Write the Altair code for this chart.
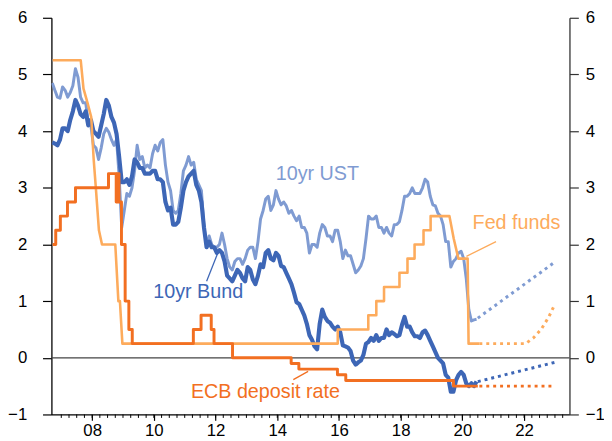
import altair as alt
import pandas as pd

# ---------------- data ----------------
# monthly 10yr yields, Sep 2006 .. Jun 2020
ust = [4.85, 4.72, 4.60, 4.58,
       4.78, 4.72, 4.60, 4.68, 4.80, 5.10, 4.95, 4.60, 4.50, 4.50, 4.15, 4.10,
       3.75, 3.70, 3.50, 3.70, 3.95, 4.05, 3.98, 3.85, 3.75, 3.85, 3.20, 2.30,
       2.60, 2.90, 2.85, 3.00, 3.30, 3.75, 3.50, 3.55, 3.35, 3.40, 3.35, 3.60,
       3.75, 3.65, 3.80, 3.85, 3.40, 3.10, 2.95, 2.60, 2.55, 2.60, 2.90, 3.30,
       3.40, 3.55, 3.40, 3.45, 3.15, 3.05, 2.95, 2.30, 2.00, 2.15, 2.00, 1.95,
       1.95, 2.00, 2.20, 2.00, 1.75, 1.60, 1.55, 1.70, 1.75, 1.75, 1.65, 1.75,
       1.90, 1.95, 1.95, 1.75, 2.05, 2.45, 2.60, 2.80, 2.85, 2.60, 2.70, 2.95,
       2.80, 2.70, 2.75, 2.68, 2.55, 2.60, 2.50, 2.42, 2.50, 2.30, 2.30, 2.20,
       1.85, 2.00, 2.00, 1.95, 2.20, 2.35, 2.30, 2.15, 2.15, 2.05, 2.25, 2.25,
       2.05, 1.75, 1.90, 1.80, 1.80, 1.65, 1.50, 1.55, 1.62, 1.75, 2.10, 2.50,
       2.45, 2.45, 2.50, 2.30, 2.30, 2.20, 2.30, 2.20, 2.15, 2.35, 2.35, 2.40,
       2.60, 2.85, 2.85, 2.90, 3.00, 2.90, 2.90, 2.90, 3.00, 3.15, 3.10, 2.85,
       2.70, 2.68, 2.55, 2.50, 2.35, 2.05, 2.05, 1.60, 1.70, 1.75, 1.85, 1.88,
       1.75, 1.40, 0.85, 0.65, 0.67, 0.68]
bund = [3.80, 3.78, 3.75, 3.85,
        4.05, 4.05, 4.00, 4.20, 4.35, 4.55, 4.45, 4.30, 4.25, 4.35, 4.10, 4.20,
        4.00, 3.95, 3.90, 4.10, 4.30, 4.55, 4.45, 4.25, 4.15, 3.95, 3.55, 3.10,
        3.10, 3.15, 3.05, 3.20, 3.50, 3.45, 3.35, 3.35, 3.25, 3.25, 3.25, 3.30,
        3.30, 3.15, 3.15, 3.10, 2.75, 2.60, 2.65, 2.35, 2.35, 2.40, 2.65, 2.95,
        3.10, 3.20, 3.25, 3.30, 3.05, 2.95, 2.75, 2.30, 1.95, 2.05, 1.95, 1.95,
        1.85, 1.90, 1.85, 1.70, 1.45, 1.40, 1.35, 1.45, 1.55, 1.50, 1.40, 1.35,
        1.60, 1.55, 1.38, 1.30, 1.45, 1.65, 1.60, 1.85, 1.90, 1.75, 1.72, 1.85,
        1.80, 1.62, 1.60, 1.50, 1.40, 1.30, 1.15, 0.98, 0.95, 0.85, 0.75, 0.60,
        0.40, 0.32, 0.20, 0.15, 0.60, 0.85, 0.72, 0.65, 0.62, 0.55, 0.50, 0.55,
        0.45, 0.22, 0.20, 0.18, 0.12, -0.05, -0.12, -0.08, -0.05, 0.05, 0.25, 0.28,
        0.35, 0.30, 0.40, 0.30, 0.35, 0.35, 0.50, 0.40, 0.45, 0.42, 0.38, 0.40,
        0.58, 0.72, 0.55, 0.55, 0.45, 0.38, 0.38, 0.35, 0.45, 0.48, 0.40, 0.30,
        0.20, 0.10, 0.00, -0.05, -0.10, -0.30, -0.35, -0.60, -0.60, -0.40, -0.30, -0.25,
        -0.30, -0.45, -0.50, -0.45, -0.50, -0.42]

fed_t = [2006.72, 2007.63, 2007.72, 2007.85, 2007.97, 2008.05, 2008.12, 2008.22,
         2008.32, 2008.75, 2008.85, 2008.90, 2008.98,
         2015.96, 2015.96, 2016.95, 2016.95, 2017.21, 2017.21, 2017.46, 2017.46,
         2017.96, 2017.96, 2018.22, 2018.22, 2018.45, 2018.45, 2018.74, 2018.74,
         2018.97, 2018.97, 2019.58, 2019.72, 2019.87, 2020.17, 2020.20, 2020.55]
fed_v = [5.25, 5.25, 4.75, 4.50, 4.25, 3.50, 3.00, 2.25,
         2.00, 2.00, 1.00, 1.00, 0.25,
         0.25, 0.50, 0.50, 0.75, 0.75, 1.00, 1.00, 1.25,
         1.25, 1.50, 1.50, 1.75, 1.75, 2.00, 2.00, 2.25,
         2.25, 2.50, 2.50, 2.10, 1.75, 1.75, 0.25, 0.25]

ecb_t = [2006.72, 2006.82, 2006.82, 2006.97, 2006.97, 2007.20, 2007.20, 2007.46, 2007.46,
         2008.53, 2008.53, 2008.78, 2008.78, 2008.80, 2008.80, 2008.87, 2008.87,
         2008.95, 2008.95, 2009.07, 2009.07, 2009.19, 2009.19, 2009.30, 2009.30,
         2011.28, 2011.28, 2011.53, 2011.53, 2011.86, 2011.86, 2011.95, 2011.95,
         2012.55, 2012.55, 2014.45, 2014.45, 2014.70, 2014.70, 2015.95, 2015.95,
         2016.22, 2016.22, 2019.71, 2019.71, 2020.50]
ecb_v = [2.00, 2.00, 2.25, 2.25, 2.50, 2.50, 2.75, 2.75, 3.00,
         3.00, 3.25, 3.25, 2.75, 2.75, 3.25, 3.25, 2.75,
         2.75, 2.00, 2.00, 1.00, 1.00, 0.50, 0.50, 0.25,
         0.25, 0.50, 0.50, 0.75, 0.75, 0.50, 0.50, 0.25,
         0.25, 0.00, 0.00, -0.10, -0.10, -0.20, -0.20, -0.30,
         -0.30, -0.40, -0.40, -0.50, -0.50]

# forward paths (dotted)
ust_fwd_t, ust_fwd_v = [2020.50, 2023.00], [0.70, 1.69]
bund_fwd_t, bund_fwd_v = [2020.50, 2023.00], [-0.42, -0.08]
fed_fwd_t = [2020.55, 2022.05, 2022.30, 2022.55, 2022.80, 2023.00]
fed_fwd_v = [0.25, 0.25, 0.35, 0.50, 0.72, 0.95]
ecb_fwd_t, ecb_fwd_v = [2020.55, 2022.90], [-0.50, -0.50]

year_ticks = [2008, 2010, 2012, 2014, 2016, 2018, 2020, 2022]
y_ticks = [-1, 0, 1, 2, 3, 4, 5, 6]

labels = ["10yr UST", "10yr Bund", "Fed funds", "ECB deposit rate"]
label_t = [2013.95, 2009.98, 2020.33, 2011.20]
label_v = [3.25, 1.16, 2.38, -0.60]
leader_t = [2011.71, 2020.13, 2014.52]
leader_v = [1.35, 1.79, -0.385]
leader_t2 = [2012.08, 2021.09, 2015.00]
leader_v2 = [1.86, 2.05, -0.24]

C_UST, C_BUND, C_FED, C_ECB = "#7f9bd2", "#3d66b6", "#fdab5c", "#f26f21"

# ---------------- build ----------------
def month_times(n, y0=2006, m0=9):
    out = []
    y, m = y0, m0
    for _ in range(n):
        out.append(y + (m - 0.5) / 12)
        m += 1
        if m > 12:
            m, y = 1, y + 1
    return out

def frame(t, v):
    return pd.DataFrame({"t": t, "v": v, "i": list(range(len(t)))})

XMIN, XMAX = 2006.68, 2023.47
xs = alt.Scale(domain=[XMIN, XMAX], nice=False, zero=False)
ys = alt.Scale(domain=[-1, 6], nice=False, zero=False)
W, H = 525, 402
FONT = "Liberation Sans"

X_AXIS = alt.Axis(
    values=year_ticks, labelExpr="format(datum.value-2000,'02d')", title=None,
    grid=False, tickSize=6, labelPadding=2, domainColor="#000", tickColor="#000",
    labelColor="#000", labelFont=FONT, labelFontSize=17, domainWidth=1.3, tickWidth=1.2)

def X(field="t:Q"):
    return alt.X(field, scale=xs, axis=X_AXIS)

def line(df, color, width, dash=None):
    kw = dict(color=color, strokeWidth=width, clip=True)
    if dash:
        kw["strokeDash"] = dash
        kw["strokeCap"] = "butt"
    else:
        kw["strokeJoin"] = "round"
    return alt.Chart(df).mark_line(**kw).encode(
        x=X(),
        y=alt.Y("v:Q", scale=ys, axis=None),
        order="i:Q",
    )

zero = alt.Chart(pd.DataFrame({"v": [0]})).mark_rule(color="#444444", strokeWidth=1.3).encode(
    y=alt.Y("v:Q", scale=ys, axis=None))

left_axis = alt.Chart(pd.DataFrame({"t": [XMIN], "v": [0]})).mark_point(opacity=0).encode(
    x=X(),
    y=alt.Y("v:Q", scale=ys, axis=alt.Axis(
        values=y_ticks, orient="left", title=None, grid=False, tickSize=9, labelPadding=16,
        domainColor="#000", tickColor="#000", labelColor="#000", labelFont=FONT,
        labelFontSize=17, domainWidth=1.3, tickWidth=1.2)),
)
right_axis = alt.Chart(pd.DataFrame({"t": [XMIN], "v": [0]})).mark_point(opacity=0).encode(
    x=X(),
    y=alt.Y("v:Q", scale=ys, axis=alt.Axis(
        values=y_ticks, orient="right", title=None, grid=False, tickSize=9, labelPadding=7,
        domainColor="#333", tickColor="#333", labelColor="#000", labelFont=FONT,
        labelFontSize=17, domainWidth=1.3, tickWidth=1.2)),
)

minor_t = [2007 + q * 0.25 for q in range(66)]
minor = alt.Chart(pd.DataFrame({"t": minor_t})).mark_rule(color="#000", strokeWidth=1).encode(
    x=X(),
    y=alt.value(H), y2=alt.value(H + 3.5))

lab_df = pd.DataFrame({"t": label_t, "v": label_v, "s": labels,
                       "c": [C_UST, C_BUND, C_FED, C_ECB]})
texts = alt.Chart(lab_df).mark_text(align="left", baseline="middle", font=FONT,
                                    fontSize=20).encode(
    x=X(), y=alt.Y("v:Q", scale=ys, axis=None),
    text="s:N", color=alt.Color("c:N", scale=None))

lead_df = pd.DataFrame({"t": leader_t, "v": leader_v, "t2": leader_t2, "v2": leader_v2,
                        "c": [C_BUND, C_FED, C_ECB]})
leaders = alt.Chart(lead_df).mark_rule(strokeWidth=1.3).encode(
    x=X(), y=alt.Y("v:Q", scale=ys, axis=None),
    x2="t2:Q", y2="v2:Q", color=alt.Color("c:N", scale=None))

ust_df = frame(month_times(len(ust)), ust)
bund_df = frame(month_times(len(bund)), bund)

chart = alt.layer(
    left_axis,
    zero,
    line(ust_df, C_UST, 3),
    line(bund_df, C_BUND, 4.2),
    line(frame(fed_t, fed_v), C_FED, 2.6),
    line(frame(ecb_t, ecb_v), C_ECB, 3),
    line(frame(ust_fwd_t, ust_fwd_v), C_UST, 3, [3, 4]),
    line(frame(bund_fwd_t, bund_fwd_v), C_BUND, 3, [3, 4]),
    line(frame(fed_fwd_t, fed_fwd_v), C_FED, 3, [3, 4]),
    line(frame(ecb_fwd_t, ecb_fwd_v), C_ECB, 3, [3, 4]),
    leaders,
    texts,
    minor,
    right_axis,
).resolve_scale(y="independent").properties(
    width=W, height=H,
    autosize=alt.AutoSizeParams(type="none"),
    padding={"left": 44, "top": 7, "right": 35, "bottom": 25},
).configure_view(stroke=None)

chart.save("out.html", embed_options={"renderer": "svg", "actions": False})
